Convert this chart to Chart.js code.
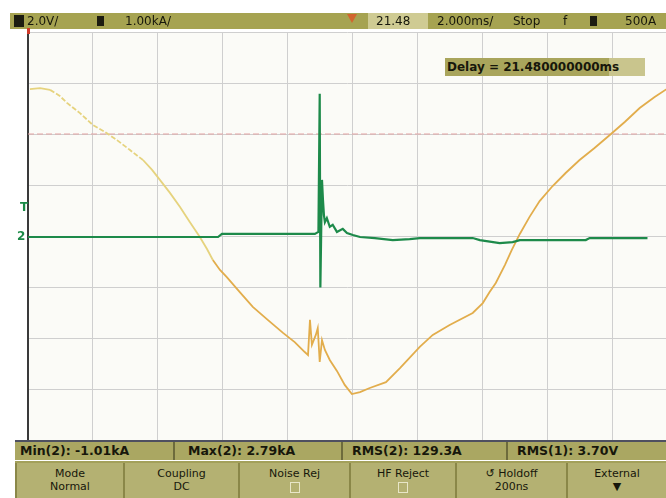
<!DOCTYPE html>
<html>
<head>
<meta charset="utf-8">
<title>Scope capture</title>
<script src="https://cdn.jsdelivr.net/npm/chart.js@4.4.1/dist/chart.umd.min.js"></script>
<style>
  html, body { margin: 0; padding: 0; background: #fff; overflow: hidden; }
  #scope { position: relative; width: 666px; height: 498px;
           font-family: "DejaVu Sans", "Liberation Sans", sans-serif;
           color: #17170b; }
  #scope canvas { position: absolute; left: 0; top: 0; }
  .abs { position: absolute; white-space: nowrap; }
  .topbar { left: 10px; top: 13px; width: 656px; height: 16px; background: #a6a351; }
  .tb { position: absolute; top: 1px; font-size: 12px; line-height: 14px; }
  .blk { position: absolute; top: 3px; width: 7px; height: 10px; background: #1c1c10; }
  .tbox { position: absolute; top: 0; height: 16px; background: #cfcb93; }
  .trig { position: absolute; left: 347px; top: 14px; width: 0; height: 0;
          border-left: 5px solid transparent; border-right: 5px solid transparent;
          border-top: 9px solid #d2652e; }
  .delay { left: 445px; top: 58px; width: 200px; height: 18px;
           background: linear-gradient(to right, #a9a55c 0, #a9a55c 82%, #c9c58d 82%, #c9c58d 100%);
           font-size: 12px; font-weight: bold; line-height: 18px; }
  .meas { left: 15px; top: 440px; width: 651px; height: 20px; background: #aaa762;
          border-top: 2px solid #4e5060; box-sizing: border-box; }
  .mcell { position: absolute; top: 0; height: 18px; font-size: 12.5px; font-weight: bold; line-height: 18px;
           border-right: 2px solid #6d6b3c; box-sizing: border-box; padding-left: 5px; }
  .keys { left: 15px; top: 461px; width: 651px; height: 37px; background: #a3a05a; }
  .key { position: absolute; top: 2px; height: 35px; background: #b4b172;
         border-left: 2px solid #8a8748; box-sizing: border-box;
         font-size: 11px; line-height: 13px; text-align: center; padding-top: 4px; }
  .chk { display: inline-block; width: 8px; height: 9px; border: 1px solid #e8e6c8; margin-top: 2px; }
  .gnd { color: #1b8a47; font-size: 12px; font-weight: bold; }
</style>
</head>
<body>
<div id="scope">
  <canvas id="scopeCanvas" width="666" height="498"></canvas>

  <div class="abs topbar">
    <div class="blk" style="left:4px; width:10px; height:12px; top:2px;"></div>
    <div class="tb" style="left:17px;">2.0V/</div>
    <div class="blk" style="left:87px;"></div>
    <div class="tb" style="left:115px;">1.00kA/</div>
    <div class="tbox" style="left:358px; width:60px;"></div>
    <div class="tb" style="left:366px;">21.48</div>
    <div class="tb" style="left:427px;">2.000ms/</div>
    <div class="tb" style="left:503px;">Stop</div>
    <div class="tb" style="left:553px;">f</div>
    <div class="blk" style="left:580px;"></div>
    <div class="tb" style="left:615px;">500A</div>
  </div>
  <div class="trig"></div>
  <div class="abs" style="left:27px; top:28px; width:3px; height:6px; background:#d23a2a;"></div>

  <div class="abs delay"><span style="padding-left:2px;">Delay = 21.480000000ms</span></div>

  <div class="abs gnd" style="left:20px; top:200px;">T</div>
  <div class="abs gnd" style="left:17px; top:229px;">2</div>

  <div class="abs meas">
    <div class="mcell" style="left:0; width:160px;">Min(2): -1.01kA</div>
    <div class="mcell" style="left:160px; width:168px; padding-left:13px;">Max(2): 2.79kA</div>
    <div class="mcell" style="left:328px; width:165px; padding-left:9px;">RMS(2): 129.3A</div>
    <div class="mcell" style="left:493px; width:158px; padding-left:9px; border-right:none;">RMS(1): 3.70V</div>
  </div>

  <div class="abs keys">
    <div class="key" style="left:0; width:108px;">Mode<br>Normal</div>
    <div class="key" style="left:108px; width:115px;">Coupling<br>DC</div>
    <div class="key" style="left:223px; width:111px;">Noise Rej<br><span class="chk"></span></div>
    <div class="key" style="left:334px; width:106px;">HF Reject<br><span class="chk"></span></div>
    <div class="key" style="left:440px; width:111px;">&#x21BA; Holdoff<br>200ns</div>
    <div class="key" style="left:551px; width:100px;">External<br>&#x25BC;</div>
  </div>
</div>

<script>
// Time base 2.000 ms/div, delay 21.480 ms at screen centre
const timeStart = 11.48;
const timeEnd = 31.12;
const timeTicks = [11.48, 13.48, 15.48, 17.48, 19.48, 21.48, 23.48, 25.48, 27.48, 29.48];

// Channel 1 (yellow), volts at 2.0 V/div
const ch1Time = [11.54, 11.85, 12.16, 12.46, 12.68, 13.08, 13.48, 13.85, 14.22, 14.62,
                 15.02, 15.30, 15.54, 15.85, 16.16, 16.46, 16.77, 16.99, 17.17, 17.39,
                 17.60, 18.00, 18.40, 18.86, 19.33, 19.69, 20.00, 20.10, 20.16, 20.22,
                 20.34, 20.40, 20.46, 20.53, 20.62, 20.77, 20.99, 21.23, 21.45, 21.70,
                 22.00, 22.50, 22.93, 23.54, 23.94, 24.46, 25.17, 25.48, 25.69, 25.88,
                 26.16, 26.37, 26.62, 26.92, 27.23, 27.63, 28.03, 28.46, 28.92, 29.39,
                 29.85, 30.31, 30.77, 31.23];
const ch1Volts = [5.76, 5.80, 5.73, 5.49, 5.22, 4.82, 4.35, 4.08, 3.76, 3.37,
                  2.98, 2.59, 2.20, 1.69, 1.14, 0.55, -0.04, -0.51, -0.94, -1.33,
                  -1.61, -2.20, -2.78, -3.29, -3.80, -4.16, -4.55, -4.67, -3.29, -4.27,
                  -3.88, -3.61, -4.94, -4.08, -4.47, -4.86, -5.29, -5.84, -6.20, -6.12,
                  -5.96, -5.73, -5.18, -4.35, -3.88, -3.49, -3.02, -2.63, -2.20, -1.84,
                  -1.14, -0.55, 0.08, 0.75, 1.37, 1.96, 2.47, 2.98, 3.45, 3.96,
                  4.47, 5.02, 5.45, 5.84];

// Channel 2 (green), kA at 1.00 kA/div
const ch2Time = [11.48, 17.33, 17.45, 20.31, 20.42, 20.46, 20.48, 20.53, 20.56, 20.59,
                 20.62, 20.68, 20.77, 20.86, 20.99, 21.17, 21.30, 21.48, 21.70, 22.16,
                 22.71, 23.23, 23.54, 25.17, 25.39, 26.00, 26.40, 26.62, 28.65, 28.77,
                 30.55];
const ch2KiloAmps = [-0.02, -0.02, 0.04, 0.04, 0.08, 2.79, -1.01, 1.10, 0.71, 0.41,
                     0.27, 0.35, 0.18, 0.22, 0.08, 0.14, 0.06, 0.02, -0.02, -0.04,
                     -0.08, -0.06, -0.04, -0.04, -0.08, -0.14, -0.12, -0.08, -0.08, -0.04,
                     -0.04];

// Cursor level on channel 1
const cursorVolts = 4.0;

const pairs = (xs, ys) => xs.map((x, i) => ({ x: x, y: ys[i] }));

// faint warm tint behind the graticule
const screenTint = {
    id: 'screenTint',
    beforeDraw(chart) {
        const a = chart.chartArea;
        const c = chart.ctx;
        c.save();
        c.fillStyle = '#fbfbf7';
        c.fillRect(a.left, a.top, a.right - a.left, a.bottom - a.top);
        c.restore();
    }
};

new Chart(document.getElementById('scopeCanvas'), {
    type: 'line',
    data: {
        datasets: [{
            label: 'Channel 2',
            data: pairs(ch2Time, ch2KiloAmps),
            yAxisID: 'y2',
            borderColor: '#1d8a4a',
            borderWidth: 2.2,
            pointRadius: 0,
            order: 0
        }, {
            label: 'Channel 1',
            data: pairs(ch1Time, ch1Volts),
            yAxisID: 'y',
            borderColor: '#e2ad4c',
            borderWidth: 1.8,
            pointRadius: 0,
            order: 1,
            // the falling edge on the left is paler and broken up
            segment: {
                borderColor: ctx => ctx.p0.parsed.x < 17.0 ? '#e6d37e' : undefined,
                borderDash: ctx => (ctx.p0.parsed.x > 12.1 && ctx.p0.parsed.x < 15.0) ? [5, 2] : undefined
            }
        }, {
            label: 'Cursor',
            data: [{ x: timeStart, y: cursorVolts }, { x: timeEnd, y: cursorVolts }],
            yAxisID: 'y',
            borderColor: '#e3a3a3',
            borderWidth: 1.2,
            borderDash: [6, 3],
            pointRadius: 0,
            order: 2
        }]
    },
    options: {
        responsive: false,
        animation: false,
        devicePixelRatio: 1,
        layout: { padding: { left: 28, top: 32, right: 0, bottom: 58 } },
        plugins: {
            legend: { display: false },
            tooltip: { enabled: false }
        },
        scales: {
            x: {
                type: 'linear',
                min: timeStart,
                max: timeEnd,
                afterBuildTicks: scale => { scale.ticks = timeTicks.map(v => ({ value: v })); },
                ticks: { display: false },
                grid: { color: '#cfcfcf', lineWidth: 1, drawTicks: false },
                border: { display: false }
            },
            y: {
                position: 'left',
                min: -8,
                max: 8,
                ticks: { display: false, stepSize: 2 },
                grid: { color: '#cfcfcf', lineWidth: 1, drawTicks: false },
                border: { display: true, color: '#3a3a3a', width: 2 }
            },
            y2: {
                position: 'right',
                min: -4,
                max: 4,
                display: false
            }
        }
    },
    plugins: [screenTint]
});
</script>
</body>
</html>
